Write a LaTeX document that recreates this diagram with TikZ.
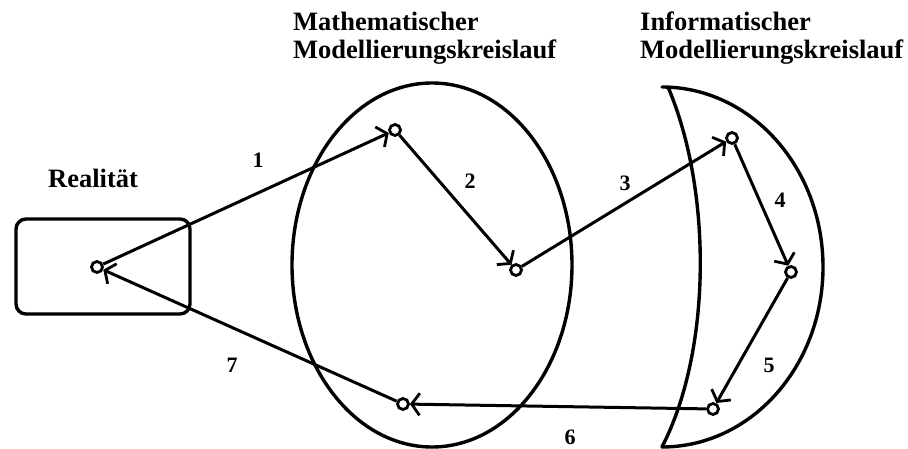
\documentclass[tikz,border=0pt]{standalone}
\usepackage{fontspec}
\setmainfont{Liberation Serif}
\usetikzlibrary{arrows.meta}
\begin{document}
\begin{tikzpicture}[x=1pt,y=-1pt,
  shapeline/.style={line width=3.4pt},
  pt/.style={circle, draw, line width=2.8pt, inner sep=0pt, minimum size=11pt, fill=white},
  conn/.style={line width=3pt, -{Straight Barb[length=8pt,width=22pt,line width=2.8pt]}},
  title/.style={font=\fontsize{26.5}{28}\selectfont\bfseries, anchor=base west, inner sep=0pt},
  num/.style={font=\fontsize{22}{24}\selectfont\bfseries, inner sep=0pt}]
\useasboundingbox (0,0) rectangle (908,449);
% titles
\node[title] (t1) at (293,31) {Mathematischer};
\node[title] (t2) at (293,59) {Modellierungskreislauf};
\node[title] (t3) at (640,31) {Informatischer};
\node[title] (t4) at (640,59) {Modellierungskreislauf};
\node[title] (t5) at (48,188) {Realität};
% shapes
\node[draw, shapeline, rounded corners=10pt, minimum width=174pt, minimum height=95pt] (box) at (103,266.5) {};
\draw[shapeline] (432,265) ellipse [x radius=140pt, y radius=182pt];
\draw[shapeline, line join=round] (662,87) arc[start angle=90, end angle=-90, x radius=161pt, y radius=180pt]
  .. controls (712,350) and (712,190) .. (668,87) -- cycle;
% points
\node[pt] (R) at (97,267) {};
\node[pt] (A) at (395,130) {};
\node[pt] (B) at (516,270) {};
\node[pt] (C) at (732,138) {};
\node[pt] (D) at (791,272) {};
\node[pt] (E) at (713,409) {};
\node[pt] (F) at (403,404) {};
% connectors
\draw[conn] (R) -- (A);
\draw[conn] (A) -- (B);
\draw[conn] (B) -- (C);
\draw[conn] (C) -- (D);
\draw[conn] (D) -- (E);
\draw[conn] (E) -- (F);
\draw[conn] (F) -- (R);
% labels
\node[num] (n1) at (258,160) {1};
\node[num] (n2) at (470,181) {2};
\node[num] (n3) at (625,183) {3};
\node[num] (n4) at (780,200) {4};
\node[num] (n5) at (769,365) {5};
\node[num] (n6) at (570,437) {6};
\node[num] (n7) at (232,365) {7};
\end{tikzpicture}
\end{document}
